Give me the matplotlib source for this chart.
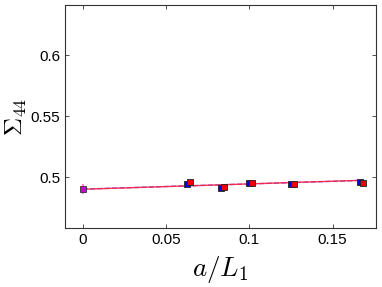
import matplotlib
matplotlib.use("Agg")
import matplotlib.pyplot as plt
import numpy as np

plt.rcParams['mathtext.fontset'] = 'cm'
plt.rcParams['font.family'] = ['Liberation Sans', 'DejaVu Sans']

# data
x_blue = [0.0625, 1/12, 0.1, 0.125, 1/6]
y_blue = [0.4945, 0.4915, 0.4953, 0.4948, 0.4959]
x_red = [0.0643, 0.0851, 0.1018, 0.1268, 0.1685]
y_red = [0.4962, 0.4923, 0.4953, 0.4942, 0.4956]
x_extrap = [0.0]
y_extrap = [0.4902]
err_extrap = [0.004]
fit_x = [0.0, 1/6]
fit_red = [0.4902, 0.4975]
fit_blue = [0.4903, 0.4974]

xticks = [0, 0.05, 0.1, 0.15]
xticklabels = ['0', '0.05', '0.1', '0.15']
yticks = [0.5, 0.55, 0.6]
yticklabels = ['0.5', '0.55', '0.6']

fig = plt.figure(figsize=(3.82, 2.87), dpi=100)
ax = fig.add_axes([0.170, 0.2056, 0.814, 0.777])

ax.plot(fit_x, fit_blue, color='#6060ff', lw=1.0, ls='--', zorder=2)
ax.plot(fit_x, fit_red, color='#ff2040', lw=1.0, ls='-', zorder=2, alpha=0.9)
ax.errorbar(x_extrap, y_extrap, yerr=err_extrap, fmt='s', color='#ff66ff',
            ecolor='#ff80ff', elinewidth=1.5, capsize=0, ms=4.5,
            mfc='#cc00cc', mec='#333333', mew=0.6, zorder=4)
ax.plot(x_blue, y_blue, 's', ms=4.5, mfc='#0000ee', mec='#222222', mew=0.6, zorder=4)
ax.plot(x_red, y_red, 's', ms=4.5, mfc='#ee0000', mec='#222222', mew=0.6, zorder=5)

ax.set_xlim(-0.0106, 0.176)
ax.set_ylim(0.4585, 0.641)
ax.set_xticks(xticks)
ax.set_xticklabels(xticklabels)
ax.set_yticks(yticks)
ax.set_yticklabels(yticklabels)
ax.tick_params(direction='in', top=True, right=True, labelsize=11, length=3,
               width=0.6, colors='#333333', labelcolor='black')
for s in ax.spines.values():
    s.set_linewidth(0.8)
    s.set_color('#333333')

ax.set_xlabel(r'$a/L_1$', fontsize=19.5, labelpad=5)
ax.set_ylabel(r'$\Sigma_{44}$', fontsize=18, labelpad=1)

fig.savefig('out.png', dpi=100)
